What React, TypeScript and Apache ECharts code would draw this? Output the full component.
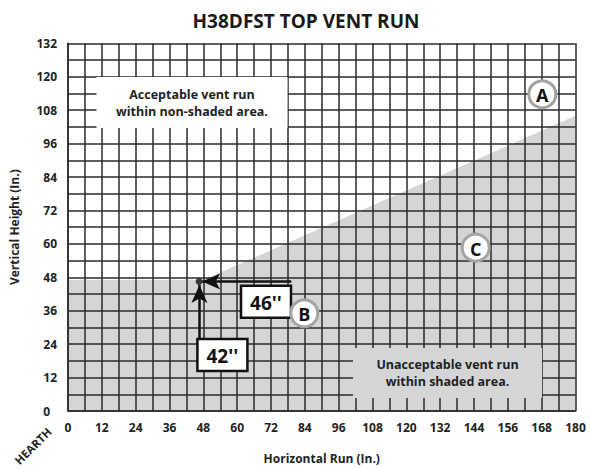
import React, { useEffect, useRef } from "react";
import * as echarts from "echarts";

const titleText = "H38DFST TOP VENT RUN";
const xName = "Horizontal Run (In.)";
const yName = "Vertical Height (In.)";
const xMax = 180;
const yMax = 132;
const tickStep = 12;
// boundary of the unacceptable (shaded) area
const boundary: number[][] = [
  [0, 47],
  [48, 47],
  [180, 106],
];
const ventPoint: number[][] = [[46.5, 46.5]];
const horizArrow: number[][] = [
  [79.2, 46.5],
  [47.6, 46.5],
];
const vertArrow: number[][] = [
  [46.6, 16.5],
  [46.6, 45.2],
];

const FONT = "'Open Sans', 'Noto Sans', sans-serif";
const GRID = "#2a2a2a";
const SHADE = "#d4d5d6";

export default function App() {
  const ref = useRef<HTMLDivElement>(null);
  useEffect(() => {
    if (!ref.current) return;
    const chart = echarts.init(ref.current, undefined, { renderer: "svg" });
    const lineStyle = { color: GRID, width: 1.5 };
    const circle = (cx: number, cy: number, label: string) => [
      {
        type: "circle",
        z: 30,
        shape: { cx, cy, r: 13.5 },
        style: { fill: "#fff", stroke: "#a4a4a4", lineWidth: 3 },
      },
      {
        type: "text",
        z: 31,
        x: cx,
        y: cy + 1,
        style: {
          text: label,
          fontFamily: FONT,
          fontWeight: "bold",
          fontSize: 18,
          fill: "#111",
          align: "center",
          verticalAlign: "middle",
        },
      },
    ];
    const box = (x: number, y: number, w: number, h: number, label: string) => [
      {
        type: "rect",
        z: 30,
        shape: { x, y, width: w, height: h },
        style: { fill: "#fff", stroke: "#111", lineWidth: 2.5 },
      },
      {
        type: "text",
        z: 31,
        x: x + w / 2,
        y: y + h / 2 + 1,
        style: {
          text: label,
          fontFamily: FONT,
          fontWeight: "bold",
          fontSize: 19,
          fill: "#111",
          align: "center",
          verticalAlign: "middle",
        },
      },
    ];
    const noteText = (x: number, y: number, text: string) => ({
      type: "text",
      z: 31,
      x,
      y,
      style: {
        text,
        fontFamily: FONT,
        fontWeight: "bold",
        fontSize: 12.5,
        fill: "#222",
        align: "center",
        verticalAlign: "middle",
      },
    });
    const note = (x: number, y: number, w: number, h: number, fill: string, l1: string, l2: string) => [
      { type: "rect", z: 30, shape: { x, y, width: w, height: h }, style: { fill } },
      noteText(x + w / 2, y + h / 2 - 8.5, l1),
      noteText(x + w / 2, y + h / 2 + 8.5, l2),
    ];
    chart.setOption({
      animation: false,
      title: {
        text: titleText,
        left: 301,
        top: 6,
        textAlign: "center",
        textStyle: { fontFamily: FONT, fontWeight: "bold", fontSize: 19, color: "#1a1a1a" },
      },
      grid: { left: 65.5, top: 43.3, width: 510, height: 374, containLabel: false },
      xAxis: {
        type: "value",
        min: 0,
        max: xMax,
        interval: tickStep,
        z: 5,
        name: xName,
        nameLocation: "middle",
        nameGap: 41,
        nameTextStyle: { fontFamily: FONT, fontWeight: "bold", fontSize: 12, color: "#222" },
        axisLine: { show: true, lineStyle },
        axisTick: { show: false },
        axisLabel: {
          margin: 10,
          fontFamily: FONT,
          fontWeight: "bold",
          fontSize: 12,
          color: "#222",
        },
        splitLine: { show: true, lineStyle },
        minorTick: { show: false, splitNumber: 2 },
        minorSplitLine: { show: true, lineStyle },
      },
      yAxis: {
        type: "value",
        min: 0,
        max: yMax,
        interval: tickStep,
        z: 5,
        name: yName,
        nameLocation: "middle",
        nameGap: 48,
        nameTextStyle: { fontFamily: FONT, fontWeight: "bold", fontSize: 12, color: "#222" },
        axisLine: { show: true, lineStyle },
        axisTick: { show: false },
        axisLabel: {
          margin: 11,
          fontFamily: FONT,
          fontWeight: "bold",
          fontSize: 12,
          color: "#222",
          formatter: (v: number) => (v === 0 ? "{z|0}" : String(v)),
          rich: {
            z: {
              fontFamily: FONT,
              fontWeight: "bold",
              fontSize: 12,
              color: "#222",
              padding: [0, 7, 0, 0],
            },
          },
        },
        splitLine: { show: true, lineStyle },
        minorTick: { show: false, splitNumber: 2 },
        minorSplitLine: { show: true, lineStyle },
      },
      series: [
        {
          type: "line",
          z: 1,
          data: boundary,
          symbol: "none",
          lineStyle: { width: 0 },
          areaStyle: { color: SHADE, opacity: 1 },
          silent: true,
        },
        {
          type: "scatter",
          z: 40,
          data: ventPoint,
          symbolSize: 7,
          itemStyle: { color: "#111" },
          markLine: {
            silent: true,
            symbol: ["none", "arrow"],
            symbolSize: [12, 18],
            label: { show: false },
            lineStyle: { color: "#111", width: 2.5, type: "solid" },
            data: [
              [{ coord: horizArrow[0] }, { coord: horizArrow[1] }],
              [{ coord: vertArrow[0] }, { coord: vertArrow[1] }],
            ],
          },
        },
      ],
      graphic: [
        ...note(96.5, 77, 191, 51, "#fff", "Acceptable vent run", "within non-shaded area."),
        ...note(353, 348, 189, 50, SHADE, "Unacceptable vent run", "within shaded area."),
        ...box(241, 285.7, 50, 32, "46''"),
        ...box(197.4, 339, 50, 32, "42''"),
        ...circle(542.3, 94.3, "A"),
        ...circle(304.3, 313.3, "B"),
        ...circle(475.7, 247.7, "C"),
        {
          type: "text",
          z: 31,
          x: 33,
          y: 446,
          rotation: Math.PI / 4,
          style: {
            text: "HEARTH",
            fontFamily: FONT,
            fontWeight: "bold",
            fontSize: 11.5,
            fill: "#222",
            align: "center",
            verticalAlign: "middle",
          },
        },
      ],
    });
    return () => chart.dispose();
  }, []);
  return (
    <div
      ref={ref}
      style={{ position: "absolute", left: 0, top: 0, width: 590, height: 469 }}
    />
  );
}
